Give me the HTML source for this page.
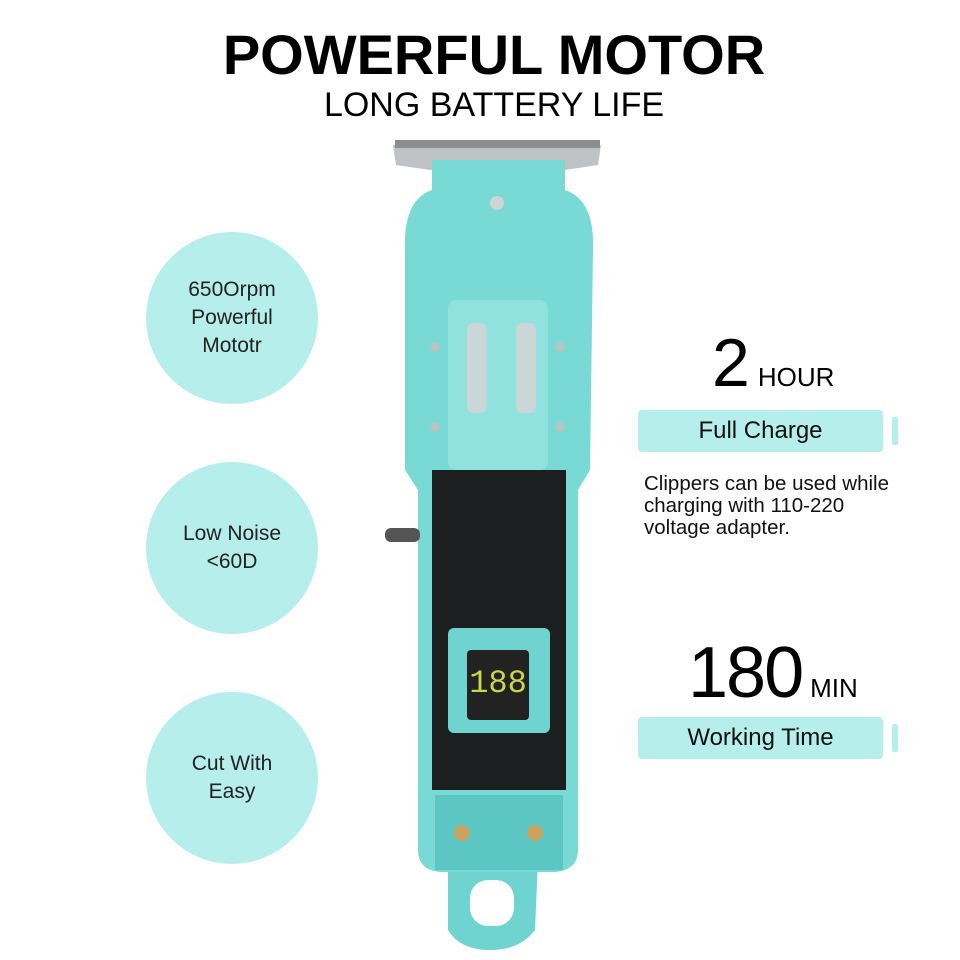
<!DOCTYPE html>
<html><head><style>
body{margin:0;width:960px;height:960px;background:#fff;position:relative;overflow:hidden;font-family:"Liberation Sans",sans-serif}
.t{position:absolute;left:14px;width:960px;text-align:center}
.c{position:absolute;width:172px;height:172px;border-radius:50%;background:#b6eeec;display:flex;align-items:center;justify-content:center;text-align:center;font-size:21px;line-height:28px;color:#222}
.bar{position:absolute;left:638px;width:245px;height:42px;background:#b6eeec;border-radius:4px;text-align:center;line-height:42px;font-size:24px;color:#111}
.tick{position:absolute;left:892px;width:6px;height:28px;background:#b6eeec;border-radius:2px}
</style></head><body>
<div class="t" style="top:22px;font-size:56px;font-weight:bold;letter-spacing:0px">POWERFUL MOTOR</div>
<div class="t" style="top:86px;font-size:34px">LONG BATTERY LIFE</div>
<div class="c" style="left:146px;top:232px">650Orpm<br>Powerful<br>Mototr</div>
<div class="c" style="left:146px;top:462px">Low Noise<br>&lt;60D</div>
<div class="c" style="left:146px;top:692px">Cut With<br>Easy</div>
<div style="position:absolute;left:712px;top:328px;font-size:68px;line-height:70px">2<span style="font-size:26px;margin-left:8px">HOUR</span></div>
<div class="bar" style="top:410px">Full Charge</div><div class="tick" style="top:417px"></div>
<div style="position:absolute;left:644px;top:473px;font-size:20.5px;line-height:22px;color:#111">Clippers can be used while<br>charging with 110-220<br>voltage adapter.</div>
<div style="position:absolute;left:688px;top:636px;font-size:72px;line-height:74px;letter-spacing:-2px">180<span style="font-size:26px;margin-left:8px;letter-spacing:0">MIN</span></div>
<div class="bar" style="top:717px">Working Time</div><div class="tick" style="top:724px"></div>
<svg width="960" height="960" style="position:absolute;left:0;top:0">
<path d="M393,145 L601,145 L598,165 L565,170 L430,170 L396,165Z" fill="#bfc3c6"/>
<path d="M395,140 L600,140 L600,148 L395,148Z" fill="#8a8e90"/>
<path d="M448,860 L538,860 L535,930 Q520,950 490,950 Q460,950 448,930Z" fill="#6fd3cf"/>
<rect x="470" y="880" width="44" height="46" rx="18" fill="#fff"/>
<path d="M432,160 L565,160 L565,190 Q595,200 593,250 L590,470 L578,490 L578,850 Q578,870 555,872 L440,872 Q418,870 418,850 L418,490 L405,470 L405,250 Q403,200 432,190Z" fill="#78d9d5"/>
<rect x="432" y="470" width="134" height="320" fill="#1b1f20"/>
<rect x="448" y="300" width="100" height="170" rx="8" fill="#8fe2de"/>
<rect x="467" y="323" width="20" height="90" rx="6" fill="#c9d7d6"/>
<rect x="516" y="323" width="20" height="90" rx="6" fill="#c9d7d6"/>
<rect x="448" y="628" width="102" height="105" rx="6" fill="#6fd3cf"/>
<rect x="467" y="650" width="62" height="70" rx="4" fill="#222"/>
<text x="498" y="692" fill="#c8d84a" font-size="32" text-anchor="middle" font-family="Liberation Mono">188</text>
<rect x="385" y="528" width="35" height="14" rx="6" fill="#555"/>
<rect x="435" y="795" width="128" height="75" fill="#5cc6c2"/>
<circle cx="462" cy="833" r="8" fill="#caa45e"/><circle cx="535" cy="833" r="8" fill="#caa45e"/>
<circle cx="497" cy="203" r="7" fill="#cfd4d4"/>
<g fill="#b8c4c2"><circle cx="435" cy="347" r="5"/><circle cx="560" cy="347" r="5"/><circle cx="435" cy="427" r="5"/><circle cx="560" cy="427" r="5"/></g>
</svg>
</body></html>
